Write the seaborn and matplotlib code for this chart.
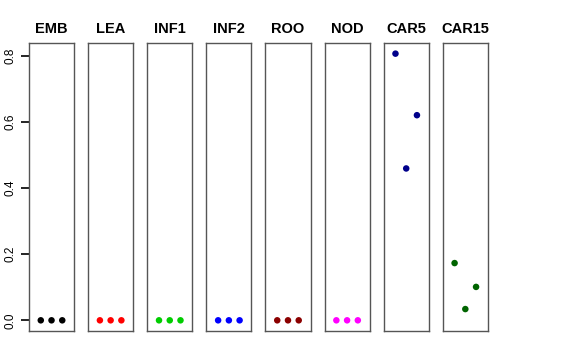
import numpy as np
import pandas as pd
import matplotlib
matplotlib.use("Agg")
import matplotlib.pyplot as plt
import seaborn as sns

# values per tissue, three replicates each
tissues = ["EMB", "LEA", "INF1", "INF2", "ROO", "NOD", "CAR5", "CAR15"]
colors = ["black", "red", "#00CD00", "blue", "#8B0000", "magenta", "#00008B", "#006400"]
rep = [1, 2, 3]
emb = [0.0, 0.0, 0.0]
lea = [0.0, 0.0, 0.0]
inf1 = [0.0, 0.0, 0.0]
inf2 = [0.0, 0.0, 0.0]
roo = [0.0, 0.0, 0.0]
nod = [0.0, 0.0, 0.0]
car5 = [0.806, 0.459, 0.620]
car15 = [0.173, 0.034, 0.101]
values = [emb, lea, inf1, inf2, roo, nod, car5, car15]
yticks = [0.0, 0.2, 0.4, 0.6, 0.8]

plt.rcParams["font.family"] = ["Liberation Sans", "DejaVu Sans"]

fig, axes = plt.subplots(1, 8, figsize=(5.76, 3.6), dpi=100)
fig.subplots_adjust(left=0.0503, right=0.847, bottom=0.0806, top=0.8806, wspace=0.311)

ymax = max(max(v) for v in values)
pad = ymax * 0.04

for i, ax in enumerate(axes):
    df = pd.DataFrame({"rep": rep, "val": values[i]})
    sns.scatterplot(data=df, x="rep", y="val", color=colors[i], s=22,
                    edgecolor="none", ax=ax)
    ax.set_xlim(-0.1, 4.1)
    ax.set_ylim(-pad, ymax + pad)
    ax.set_xticks([])
    ax.set_xlabel("")
    ax.set_ylabel("")
    ax.set_title(tissues[i], fontsize=10.5, fontweight="bold", pad=7, color="black")
    for sp in ax.spines.values():
        sp.set_color("#555555")
        sp.set_linewidth(1.0)
    if i > 0:
        ax.set_yticks([])

# y axis only on the first panel, R style
ax0 = axes[0]
ax0.set_yticks(yticks)
ax0.set_yticklabels([f"{t:.1f}" for t in yticks], rotation=90,
                    va="center", fontsize=8.5)
ax0.tick_params(axis="y", direction="out", length=5.5, width=1.2,
                color="black", pad=3.5, left=True)

fig.savefig("out.png", dpi=100)
